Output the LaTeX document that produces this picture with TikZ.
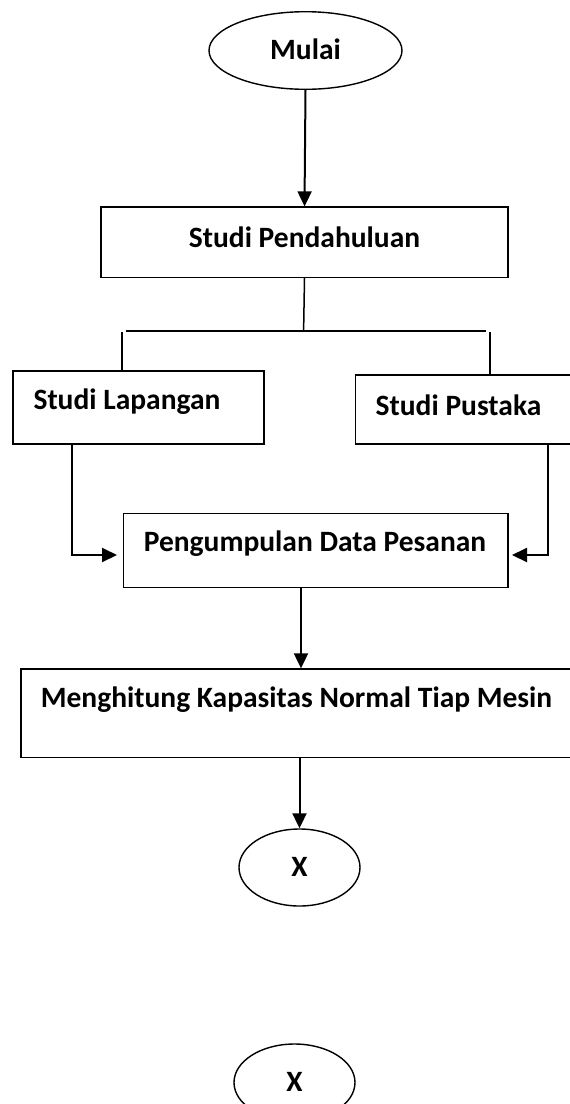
\documentclass[tikz,border=0pt]{standalone}
\usepackage{fontspec}
\setmainfont{Carlito}
\usetikzlibrary{shapes.geometric,arrows.meta}
\tikzset{
  box/.style={draw, line width=1.4pt, inner sep=0pt},
  oval/.style={draw, ellipse, line width=1.4pt, inner sep=0pt},
  txt/.style={inner sep=0pt, font=\fontsize{29.5}{35}\selectfont\bfseries},
  ln/.style={line width=1.5pt},
  arr/.style={line width=2pt, -{Triangle[length=15pt,width=14pt]}}
}
\begin{document}
\begin{tikzpicture}[x=1pt,y=-1pt]
\useasboundingbox (0,0) rectangle (570,1104);
\clip (0,0) rectangle (570,1104);
% shapes
\node[oval, minimum width=193pt, minimum height=77.6pt] (mulai) at (305.5,50.5) {};
\node[txt] (tmulai) at (305.5,49) {Mulai};
\node[box, minimum width=407pt, minimum height=70.3pt] (pend) at (304.5,242.2) {};
\node[txt] (tpend) at (304.5,237.3) {Studi Pendahuluan};
\node[box, minimum width=251pt, minimum height=73pt] (lap) at (138.5,407.5) {};
\node[txt] (tlap) at (127,401.7) {Studi Lapangan};
\node[box, minimum width=250pt, minimum height=69pt] (pus) at (480.6,409.5) {};
\node[txt] (tpus) at (458.5,405) {Studi Pustaka};
\node[box, minimum width=384.4pt, minimum height=73.6pt] (pen) at (315.8,550.5) {};
\node[txt] (tpen) at (315,543.3) {Pengumpulan Data Pesanan};
\node[box, minimum width=579pt, minimum height=88.7pt] (meng) at (310.5,713.4) {};
\node[txt] (tmeng) at (296.5,700) {Menghitung Kapasitas Normal Tiap Mesin};
\node[oval, minimum width=121pt, minimum height=77pt] (x1) at (299.5,867.5) {};
\node[txt] (tx1) at (299.5,866.7) {X};
\node[oval, minimum width=121pt, minimum height=77pt] (x2) at (294.5,1082.5) {};
\node[txt] (tx2) at (294.5,1081.7) {X};
% helper coordinates
\coordinate (jc) at (303.6,331);
\coordinate (jl) at (125.5,331);
\coordinate (jr) at (485.5,331);
\coordinate (vl) at (121.8,332);
\coordinate (vr) at (489.8,332);
\coordinate (clt) at (71.6,444);
\coordinate (al) at (117,555);
\coordinate (crt) at (548,444);
\coordinate (ar) at (512,555);
\coordinate (a3) at (301,0);
% connectors
\draw[arr] (mulai.south) -- (pend.north);
\draw[ln] (pend.south) -- (jc);
\draw[ln] (jl) -- (jr);
\draw[ln] (vl) -- (vl |- lap.north);
\draw[ln] (vr) -- (vr |- pus.north);
\draw[arr] (clt) |- (al);
\draw[arr] (crt) |- (ar);
\draw[arr] (pen.south -| a3) -- (meng.north -| a3);
\draw[arr] (x1.north |- meng.south) -- (x1.north);
\end{tikzpicture}
\end{document}
